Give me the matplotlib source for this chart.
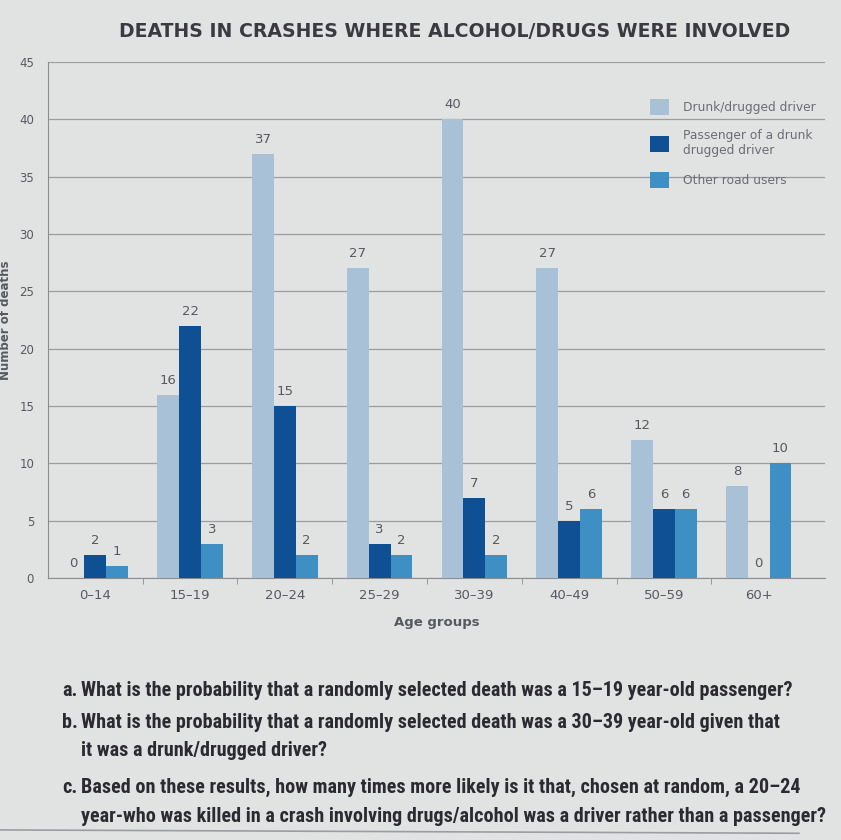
import matplotlib
matplotlib.use("Agg")
import matplotlib.pyplot as plt
from matplotlib.patches import Patch
from matplotlib.lines import Line2D
from matplotlib import font_manager
import numpy as np

age_groups = ["0\u201314", "15\u201319", "20\u201324", "25\u201329", "30\u201339", "40\u201349", "50\u201359", "60+"]
driver = [0, 16, 37, 27, 40, 27, 12, 8]
passenger = [2, 22, 15, 3, 7, 5, 6, 0]
other = [1, 3, 2, 2, 2, 6, 6, 10]
series_names = ["Drunk/drugged driver", "Passenger of a drunk\ndrugged driver", "Other road users"]
yticks = [0, 5, 10, 15, 20, 25, 30, 35, 40, 45]

bg = "#e1e3e3"
c_driver = "#a8c1d6"
c_pass = "#0f4f93"
c_other = "#3d8fc4"
txt = "#555a60"

installed = {f.name for f in font_manager.fontManager.ttflist}
cands = ["Roboto Condensed", "Open Sans Condensed", "Liberation Sans Narrow", "Liberation Sans"]
qfam = [c for c in cands if c in installed][:1] + ["DejaVu Sans"]
narrow = qfam[0] in ("Roboto Condensed", "Open Sans Condensed", "Liberation Sans Narrow")
qsize = 14.5 if narrow else 10.8

fig = plt.figure(figsize=(8.41, 8.40), dpi=100, facecolor=bg)
ax = fig.add_axes([0.057, 0.312, 0.924, 0.614], facecolor=bg)

x = np.arange(len(age_groups))
w = 0.23
for vals, off, col in [(driver, -w, c_driver), (passenger, 0, c_pass), (other, w, c_other)]:
    bars = ax.bar(x + off, vals, width=w, color=col, zorder=3)
    for b, v in zip(bars, vals):
        ax.text(b.get_x() + b.get_width() / 2, v + 0.7, str(v), ha="center", va="bottom",
                fontsize=9.5, color=txt, zorder=4)

ax.set_ylim(0, 45)
ax.set_xlim(-0.5, 7.7)
ax.set_yticks(yticks)
ax.yaxis.grid(True, color="#9a9ea2", linewidth=0.9, zorder=0)
ax.set_axisbelow(True)
for s in ["top", "right"]:
    ax.spines[s].set_visible(False)
ax.spines["left"].set_color("#8a8e92")
ax.spines["bottom"].set_color("#8a8e92")
ax.tick_params(axis="y", length=0, labelsize=8.5, colors=txt, pad=10)
ax.set_xticks(x)
ax.set_xticklabels(age_groups, fontsize=9.5, color=txt)
ax.tick_params(axis="x", length=0, pad=8)
ax.set_xticks(x[:-1] + 0.5, minor=True)
ax.tick_params(axis="x", which="minor", length=4, color="#8a8e92")
ax.set_xlabel("Age groups", fontsize=9.5, fontweight="bold", color=txt, labelpad=10)
ax.set_ylabel("Number of deaths", fontsize=8.5, fontweight="bold", color=txt, labelpad=0)
ax.yaxis.set_label_coords(-0.046, 0.5)

handles = [Patch(facecolor=c_driver), Patch(facecolor=c_pass), Patch(facecolor=c_other)]
leg = ax.legend(handles, series_names, loc="upper left", bbox_to_anchor=(0.76, 0.95),
                frameon=False, fontsize=8.8, handlelength=1.6, handleheight=1.6,
                labelspacing=1.2, handletextpad=1.1)
for t in leg.get_texts():
    t.set_color("#6a6e74")

fig.text(0.54, 0.963, "DEATHS IN CRASHES WHERE ALCOHOL/DRUGS WERE INVOLVED",
         ha="center", va="center", fontsize=13.6, fontweight="bold", color="#3a3a40")

q_prefix = [("a.", 0.178), ("b.", 0.140), ("c.", 0.063)]
q_lines = [
    (0.178, "What is the probability that a randomly selected death was a 15\u201319 year-old passenger?"),
    (0.140, "What is the probability that a randomly selected death was a 30\u201339 year-old given that"),
    (0.107, "it was a drunk/drugged driver?"),
    (0.063, "Based on these results, how many times more likely is it that, chosen at random, a 20\u201324"),
    (0.028, "year-who was killed in a crash involving drugs/alcohol was a driver rather than a passenger?"),
]
for s, yy in q_prefix:
    fig.text(0.074, yy, s, ha="left", va="center", fontsize=qsize, fontweight="bold",
             family=qfam, color="#2a2a30")
for yy, s in q_lines:
    fig.text(0.096, yy, s, ha="left", va="center", fontsize=qsize, fontweight="bold",
             family=qfam, color="#2a2a30")

fig.add_artist(Line2D([0, 0.95], [0.012, 0.008], color="#9a9ea2", linewidth=1.2))

fig.savefig("out.png", dpi=100, facecolor=bg)
